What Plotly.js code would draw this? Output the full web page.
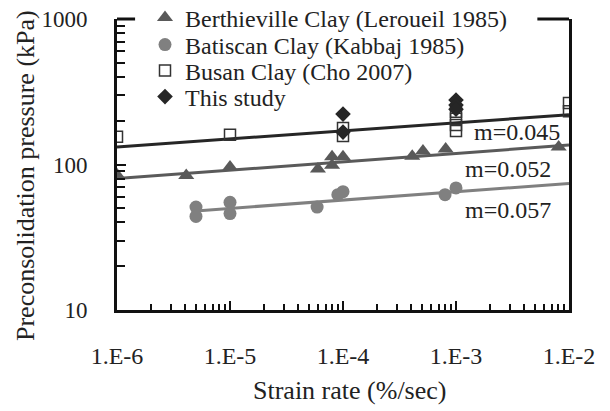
<!DOCTYPE html>
<html>
<head>
<meta charset="utf-8">
<script src="https://cdn.plot.ly/plotly-3.0.1.min.js"></script>
<style>html,body{margin:0;padding:0;background:#fff;}#chart{width:610px;height:411px;}</style>
</head>
<body>
<div id="chart"></div>
<script>
// Berthieville Clay (Leroueil 1985)
const berthX = [1e-6, 4.1e-6, 1e-5, 6e-5, 8e-5, 8e-5, 1e-4, 4.1e-4, 5.1e-4, 8.1e-4, 8.1e-3];
const berthY = [85, 84, 96, 93, 113, 99, 113, 114, 124, 128, 132];
// Batiscan Clay (Kabbaj 1985)
const batX = [5e-6, 5e-6, 1e-5, 1e-5, 5.9e-5, 9e-5, 1e-4, 8e-4, 1e-3];
const batY = [51, 44, 55, 46, 51, 62, 65, 62, 69];
// Busan Clay (Cho 2007)
const busX = [1e-6, 1e-5, 1e-4, 1e-4, 1e-3, 1e-3, 1e-3, 1e-3, 1e-2, 1e-2];
const busY = [155, 160, 178, 157, 230, 206, 187, 170, 265, 232];
// This study
const thisX = [1e-4, 1e-4, 1e-3, 1e-3, 1e-3];
const thisY = [222, 167, 277, 256, 240];
// Fit lines
const fitBusX = [1e-6, 1e-2], fitBusY = [132, 220];
const fitBerX = [1e-6, 1e-2], fitBerY = [80, 136];
const fitBatX = [5e-6, 1e-2], fitBatY = [48, 74];
const slopeLabels = ["m=0.045", "m=0.052", "m=0.057"];
const xTickVals = [1e-6, 1e-5, 1e-4, 1e-3, 1e-2];
const xTickText = ["1.E-6", "1.E-5", "1.E-4", "1.E-3", "1.E-2"];
const yTickVals = [10, 100, 1000];
const yTickText = ["10", "100", "1000"];
const xTitle = 'Strain rate (%/sec)';
const yTitle = 'Preconsolidation pressure (kPa)';

const FONT = "Liberation Serif, Times New Roman, serif";
const traces = [
  {x: fitBusX, y: fitBusY, mode: 'lines', line: {color: '#262626', width: 3}, showlegend: false, hoverinfo: 'skip'},
  {x: fitBerX, y: fitBerY, mode: 'lines', line: {color: '#5a5a5a', width: 3}, showlegend: false, hoverinfo: 'skip'},
  {x: fitBatX, y: fitBatY, mode: 'lines', line: {color: '#808080', width: 3}, showlegend: false, hoverinfo: 'skip'},
  {x: berthX, y: berthY, mode: 'markers', name: 'Berthieville Clay (Leroueil 1985)', legend: 'legend',
   marker: {symbol: 'triangle-up', size: 14, color: '#595959'}},
  {x: batX, y: batY, mode: 'markers', name: 'Batiscan Clay (Kabbaj 1985)', legend: 'legend2',
   marker: {symbol: 'circle', size: 13, color: '#808080'}},
  {x: busX, y: busY, mode: 'markers', name: 'Busan Clay (Cho 2007)', legend: 'legend3',
   marker: {symbol: 'square-open', size: 11, color: '#333', line: {color: '#333', width: 1.5}}},
  {x: thisX, y: thisY, mode: 'markers', name: 'This study', legend: 'legend4',
   marker: {symbol: 'diamond', size: 12, color: '#262626'}}
];

function leg(yPx) {
  return {x: (145 - 117) / 452, y: (310 - yPx) / 291, xanchor: 'left', yanchor: 'middle',
          bgcolor: 'rgba(0,0,0,0)', borderwidth: 0,
          font: {family: FONT, size: 24, color: '#222'}};
}

const layout = {
  width: 610, height: 411,
  margin: {l: 117, r: 41, t: 19, b: 101, autoexpand: false},
  paper_bgcolor: '#fff', plot_bgcolor: '#fff',
  font: {family: FONT, size: 24, color: '#222'},
  showlegend: true,
  legend: leg(18), legend2: leg(45), legend3: leg(71), legend4: leg(97),
  xaxis: {type: 'log', range: [-6, -2], tickvals: xTickVals, ticktext: xTickText,
          ticks: 'inside', ticklen: 9, tickwidth: 2, tickcolor: '#111',
          showline: true, linecolor: '#111', linewidth: 3, mirror: false,
          showgrid: false, zeroline: false, ticklabelstandoff: 22, automargin: false,
          tickfont: {family: FONT, size: 24, color: '#222'},
          minor: {ticks: 'inside', ticklen: 6, tickwidth: 2, tickcolor: '#111', dtick: 'D1', showgrid: false}},
  yaxis: {type: 'log', range: [1, 3], tickvals: yTickVals, ticktext: yTickText,
          ticks: 'inside', ticklen: 9, tickwidth: 2, tickcolor: '#111',
          showline: true, linecolor: '#111', linewidth: 3, mirror: true,
          showgrid: false, zeroline: false, ticklabelstandoff: 22, automargin: false,
          tickfont: {family: FONT, size: 23, color: '#222'},
          minor: {ticks: 'inside', ticklen: 8, tickwidth: 2, tickcolor: '#111', dtick: 'D1', showgrid: false}},
  shapes: [
    {type: 'line', xref: 'paper', yref: 'paper', x0: 0, x1: 0.04, y0: 1, y1: 1, line: {color: '#111', width: 3}},
    {type: 'line', xref: 'paper', yref: 'paper', x0: 0.93, x1: 1, y0: 1, y1: 1, line: {color: '#111', width: 3}}
  ],
  annotations: [
    {x: -2.062, y: Math.log10(167), xref: 'x', yref: 'y', text: slopeLabels[0], showarrow: false, xanchor: 'right', font: {family: FONT, size: 24, color: '#222'}},
    {x: -2.14, y: Math.log10(93), xref: 'x', yref: 'y', text: slopeLabels[1], showarrow: false, xanchor: 'right', font: {family: FONT, size: 24, color: '#222'}},
    {x: -2.14, y: Math.log10(49), xref: 'x', yref: 'y', text: slopeLabels[2], showarrow: false, xanchor: 'right', font: {family: FONT, size: 24, color: '#222'}},
    {x: (349 - 117) / 452, y: (310 - 390) / 291, xref: 'paper', yref: 'paper', text: xTitle, showarrow: false,
     xanchor: 'center', yanchor: 'middle', font: {family: FONT, size: 26, color: '#222'}},
    {x: (25 - 117) / 452, y: (310 - 176) / 291, xref: 'paper', yref: 'paper', text: yTitle, showarrow: false,
     textangle: -90, xanchor: 'center', yanchor: 'middle', font: {family: FONT, size: 26, color: '#222'}}
  ]
};
Plotly.newPlot('chart', traces, layout, {displayModeBar: false, staticPlot: true});
</script>
</body>
</html>
